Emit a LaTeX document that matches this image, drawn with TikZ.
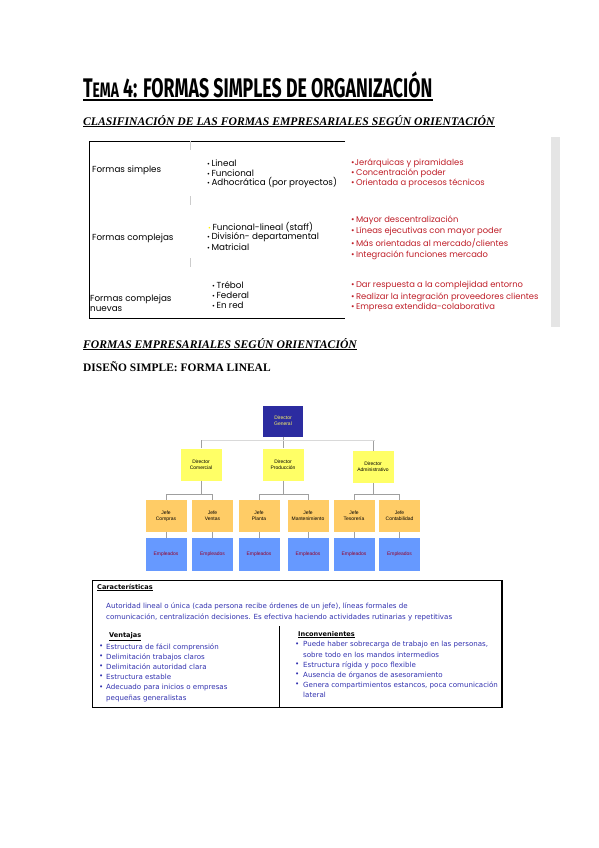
\documentclass[tikz,border=0pt]{standalone}
\usepackage{fontspec}
\setmainfont{Liberation Serif}
\setsansfont{Liberation Sans}
\newfontfamily\gothic{Poppins}
\newfontfamily\titlefont{Fira Sans}
\newfontfamily\notas{DejaVu Sans}
\usetikzlibrary{positioning}

\definecolor{rojotabla}{RGB}{190,30,40}
\definecolor{amarillo}{RGB}{255,255,102}
\definecolor{naranja}{RGB}{255,204,102}
\definecolor{azulclaro}{RGB}{102,153,255}
\definecolor{azuloscuro}{RGB}{44,44,160}
\definecolor{granate}{RGB}{150,0,40}
\definecolor{azultexto}{RGB}{50,50,175}

\begin{document}
\begin{tikzpicture}[x=1bp,y=-1bp,
	linea/.style={draw=gray!75,line width=0.8bp},
	caja/.style={minimum width=41bp,minimum height=32bp,inner sep=0pt,align=center,font=\sffamily\fontsize{5}{6}\selectfont},
	director/.style={caja,fill=amarillo},
	jefe/.style={caja,fill=naranja},
	empleados/.style={caja,fill=azulclaro,text=granate,minimum height=33bp},
	celda/.style={anchor=west,inner sep=0pt,font=\gothic\fontsize{8.8}{9.8}\selectfont},
	celdaroja/.style={celda,text=rojotabla,font=\gothic\fontsize{8.4}{9.4}\selectfont},
	textoazul/.style={anchor=west,inner sep=0pt,text=azultexto,font=\notas\fontsize{7.1}{8.3}\selectfont},
	cabecera/.style={anchor=base west,inner sep=0pt,font=\notas\bfseries\fontsize{6.6}{7}\selectfont}]
	\useasboundingbox (0,0) rectangle (599,848);

	% titulos
	\node[anchor=base west,inner sep=0pt,xscale=0.66,font=\titlefont\bfseries\fontsize{27}{27}\selectfont] (titulo) at (83,97) {T{\fontsize{21}{21}\selectfont EMA} 4: FORMAS SIMPLES DE ORGANIZACIÓN};
	\draw[line width=1.6bp] ([yshift=-3bp]titulo.base west) -- ([yshift=-3bp]titulo.base east);
	\node[anchor=base west,inner sep=0pt,font=\bfseries\itshape\fontsize{11.7}{12}\selectfont] (clasif) at (83,125) {\underline{CLASIFINACIÓN DE LAS FORMAS EMPRESARIALES SEGÚN ORIENTACIÓN}};

	% tabla
	\draw[line width=0.8bp] (345,141) -- (89,141) -- (89,318) -- (345,318);
	\foreach \y in {141,196,258} {
		\draw[gray!40] (190,\y) -- ++(0,9);
	}
	\fill[gray!20] (551,137) rectangle (560,327);

	\node[celda] (fila1) at (92,170) {Formas simples};
	\node[celda] (fila2) at (92,238) {Formas complejas};
	\node[celda,align=left] (fila3) at (90,303) {Formas complejas\\nuevas};

	\foreach \y/\t in {163/Lineal,173/Funcional,183/{Adhocrática (por proyectos)},237/{División- departamental},247/Matricial} {
		\node[celda] at (207,\y) {{\scriptsize•}\,\t};
	}
	\node[celda] at (208,227) {\textcolor{yellow}{\scriptsize•}\,Funcional-lineal (staff)};
	\foreach \y/\t in {285/Trébol,295/Federal,305/En red} {
		\node[celda] at (212,\y) {{\scriptsize•}\,\t};
	}

	\foreach \y/\t in {163/{Jerárquicas y piramidales},173/{\,Concentración poder},183/{\,Orientada a procesos técnicos},
		220/{\,Mayor descentralización},231/{\,Líneas ejecutivas con mayor poder},243/{\,Más orientadas al mercado/clientes},255/{\,Integración funciones mercado},
		285/{\,Dar respuesta a la complejidad entorno},297/{\,Realizar la integración proveedores clientes},307/{\,Empresa extendida-colaborativa}} {
		\node[celdaroja] at (351,\y) {•\t};
	}

	% segundo bloque
	\node[anchor=base west,inner sep=0pt,font=\bfseries\itshape\fontsize{11.7}{12}\selectfont] (formas) at (83,348) {\underline{FORMAS EMPRESARIALES SEGÚN ORIENTACIÓN}};
	\node[anchor=base west,inner sep=0pt,font=\bfseries\fontsize{11.5}{12}\selectfont] (disenio) at (83,371) {DISEÑO SIMPLE: FORMA LINEAL};

	% organigrama
	\node[caja,fill=azuloscuro,text=yellow!60,minimum width=40bp,minimum height=31bp] (dg) at (283,421) {Director\\General};
	\node[director] (dc) at (201,464.5) {Director\\Comercial};
	\node[director] (dp) at (283,464.5) {Director\\Producción};
	\node[director] (da) at (373,467) {Director\\Administrativo};

	\node[jefe] (jc) at (166,516) {Jefe\\Compras};
	\node[jefe] (jv) at (212.5,516) {Jefe\\Ventas};
	\node[jefe] (jp) at (259,516) {Jefe\\Planta};
	\node[jefe] (jm) at (308,516) {Jefe\\Mantenimiento};
	\node[jefe] (jt) at (354,516) {Jefe\\Tesorería};
	\node[jefe] (jco) at (399.5,516) {Jefe\\Contabilidad};

	\foreach \j/\e in {jc/e1,jv/e2,jp/e3,jm/e4,jt/e5,jco/e6} {
		\node[empleados] (\e) at (\j |- 0,554.5) {Empleados};
		\draw[linea] (\j) -- (\e);
	}

	\draw[linea] (dg) -- (dp);
	\draw[draw=gray!30,line width=0.6bp] (dc.north) ++(0,-8) -- ++(174,0);
	\draw[linea] (dc.north) -- ++(0,-8);
	\draw[linea] (da.north) -- ++(0,-10);
	\draw[linea] (dc.south) -- ++(0,13.5) -| (jc.north) (dc.south) ++(0,13.5) -| (jv.north);
	\draw[linea] (dp.south) -- ++(0,13.5) -| (jp.north) (dp.south) ++(0,13.5) -| (jm.north);
	\draw[linea] (da.south) -- ++(0,11) -| (jt.north) (da.south) ++(0,11) -| (jco.north);

	% caracteristicas
	\draw[line width=0.8bp] (92,580) rectangle (502,707);
	\draw[line width=1.6bp] (502,580) -- (502,707);
	\draw[line width=0.8bp] (279,626) -- (279,707);
	\node[cabecera] (carac) at (97,589) {\underline{Características}};
	\node[textoazul] (parr1) at (106,606) {Autoridad lineal o única (cada persona recibe órdenes de un jefe), líneas formales de};
	\node[textoazul] (parr2) at (106,617) {comunicación, centralización decisiones. Es efectiva haciendo actividades rutinarias y repetitivas};

	\node[cabecera] (ventajas) at (109,637) {\underline{Ventajas}};
	\foreach \y/\t/\b in {647/{Estructura de fácil comprensión}/•,657/{Delimitación trabajos claros}/•,667/{Delimitación autoridad clara}/•,
		677/{Estructura estable}/•,688/{Adecuado para inicios o empresas}/•,698/{pequeñas generalistas}/{}} {
		\node[textoazul] at (99,\y) {\b};
		\node[textoazul] at (106,\y) {\t};
	}

	\node[cabecera] (inconv) at (298,636) {\underline{Inconvenientes}};
	\foreach \y/\t/\b in {645/{Puede haber sobrecarga de trabajo en las personas,}/•,655/{sobre todo en los mandos intermedios}/{},665/{Estructura rígida y poco flexible}/•,
		675/{Ausencia de órganos de asesoramiento}/•,685/{Genera compartimientos estancos, poca comunicación}/•,695/{lateral}/{}} {
		\node[textoazul] at (295,\y) {\b};
		\node[textoazul] at (303,\y) {\t};
	}
\end{tikzpicture}
\end{document}
